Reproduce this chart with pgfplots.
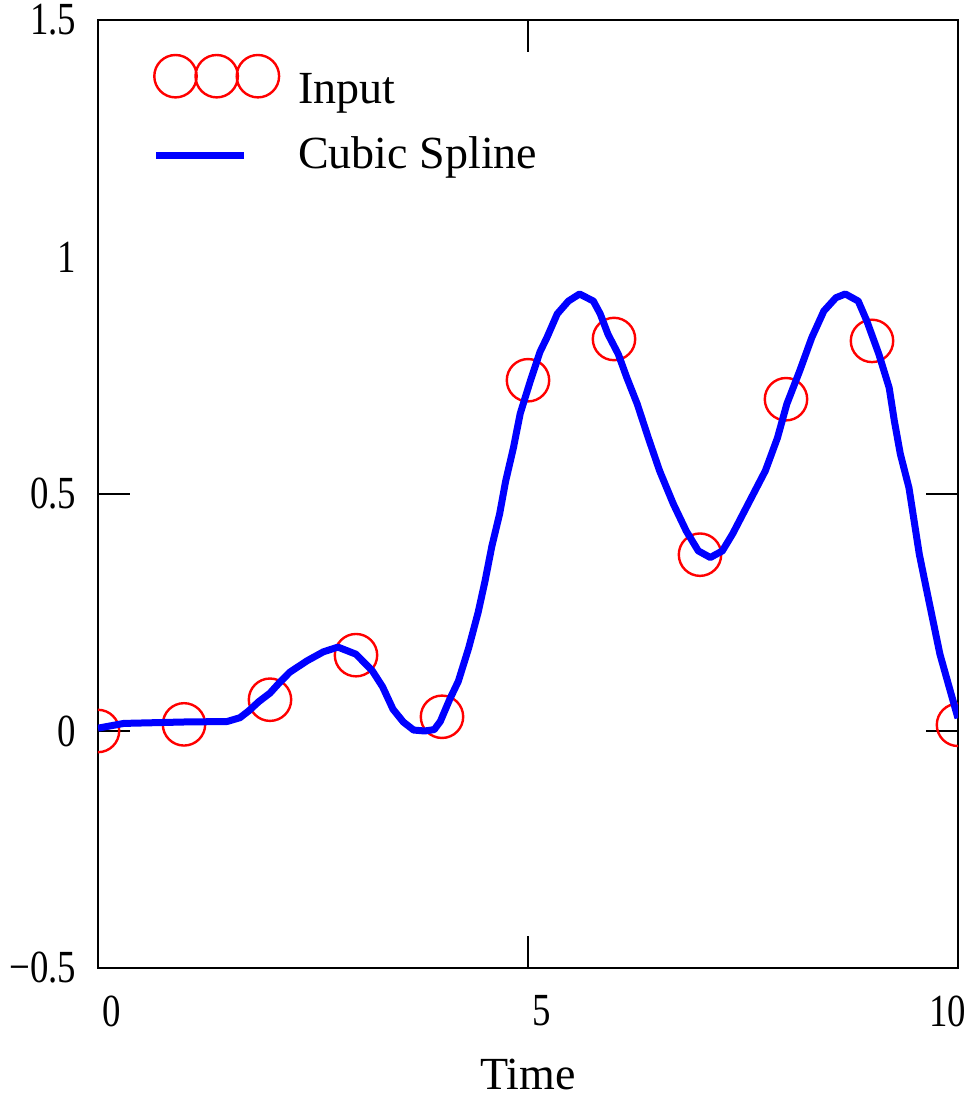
\documentclass[border=0pt]{standalone}
\usepackage{fontspec}
\setmainfont{Liberation Serif}
\newfontfamily\tickfont[FakeStretch=0.8]{Liberation Serif}
\usepackage{pgfplots}
\pgfplotsset{compat=1.18}

\begin{document}
\begin{tikzpicture}[font=\fontsize{11.5pt}{13.8pt}\selectfont]
\begin{axis}[
    name=ax,
    scale only axis,
    width=215pt, height=237pt,
    xmin=0, xmax=10, ymin=-0.5, ymax=1.5,
    axis line style={line width=0.7pt},
    tick style={line width=0.7pt, black},
    major tick length=8pt,
    tick align=inside,
    tick label style={font=\fontsize{11.5pt}{13.8pt}\tickfont},
    xtick={0,5}, xticklabels={0,5},
    extra x ticks={10}, extra x tick labels={10},
    extra x tick style={grid=none, xticklabel style={anchor=north east, xshift=1.25pt}},
    ytick={-0.5,0,0.5,1.5}, yticklabels={−0.5,0,0.5,1.5},
    extra y ticks={1}, extra y tick labels={1},
    extra y tick style={grid=none, major tick length=0pt},
    xticklabel style={anchor=north west, inner sep=0pt, yshift=-6.75pt, xshift=1pt},
    yticklabel style={anchor=east, inner sep=0pt, xshift=-5.25pt},
    xlabel={Time},
    xlabel style={at={(axis description cs:0.5,0)}, anchor=north, inner sep=0pt, yshift=-22.5pt},
    clip marker paths=true,
    legend cell align=left,
    legend style={at={(axis description cs:0,1)}, anchor=north west,
        xshift=13.5pt, yshift=-8.25pt, draw=none, fill=none, inner sep=0pt,
        row sep=8.8pt, column sep=4.5pt,
        nodes={inner sep=0pt, text height=7.6pt, text depth=0pt}},
]
% input points
\addplot[only marks, mark=o, mark size=5.3pt,
    mark options={draw=red, line width=0.6pt},
    legend image code/.code={
        \draw[red, line width=0.6pt] (5.3pt,3pt) circle[radius=5.3pt]
            (15.6pt,3pt) circle[radius=5.3pt] (25.9pt,3pt) circle[radius=5.3pt];}]
coordinates {
(0,0.0) (1,0.014) (2,0.066) (3,0.16) (4,0.03) (5,0.74)
(6,0.827) (7,0.372) (8,0.70) (9,0.823) (10,0.013)
};
\addlegendentry{Input}

% spline curve
\addplot[blue, line width=1.75pt, no marks, line join=round,
    legend image code/.code={
        \draw[blue, line width=1.75pt] (0.5pt,-0.4pt) -- (22.5pt,-0.4pt);}]
coordinates {
(0,0.006) (0.3,0.016) (1.0,0.019) (1.5,0.02) (1.65,0.028) (1.75,0.042)
(1.87,0.062) (2.0,0.08) (2.1,0.1) (2.23,0.124) (2.43,0.148) (2.62,0.167)
(2.79,0.177) (3.0,0.162) (3.19,0.127) (3.31,0.093) (3.43,0.046) (3.55,0.019)
(3.67,0.002) (3.8,0.0) (3.91,0.003) (3.98,0.02) (4.09,0.067) (4.19,0.105)
(4.31,0.175) (4.42,0.25) (4.50,0.316) (4.58,0.39) (4.67,0.458) (4.74,0.527)
(4.83,0.597) (4.91,0.67) (5.03,0.74) (5.14,0.80) (5.22,0.83) (5.34,0.88)
(5.47,0.907) (5.60,0.922) (5.76,0.907) (5.84,0.88) (5.93,0.837) (6.05,0.795)
(6.15,0.745) (6.27,0.69) (6.40,0.618) (6.53,0.549) (6.69,0.479) (6.84,0.422)
(6.98,0.38) (7.12,0.366) (7.26,0.38) (7.38,0.416) (7.56,0.479) (7.76,0.549)
(7.90,0.618) (8.01,0.69) (8.16,0.76) (8.30,0.83) (8.44,0.886) (8.58,0.914)
(8.69,0.922) (8.84,0.907) (8.94,0.865) (9.08,0.795) (9.20,0.724) (9.26,0.654)
(9.33,0.584) (9.43,0.513) (9.49,0.443) (9.55,0.373) (9.63,0.302) (9.71,0.232)
(9.79,0.162) (9.90,0.091) (10.0,0.027)
};
\addlegendentry{Cubic Spline}
\end{axis}
% page size as in the reference
\path (ax.south west) ++(-24.5pt,-31.5pt);
\path (ax.south west) ++(217.75pt,242pt);
\end{tikzpicture}
\end{document}
